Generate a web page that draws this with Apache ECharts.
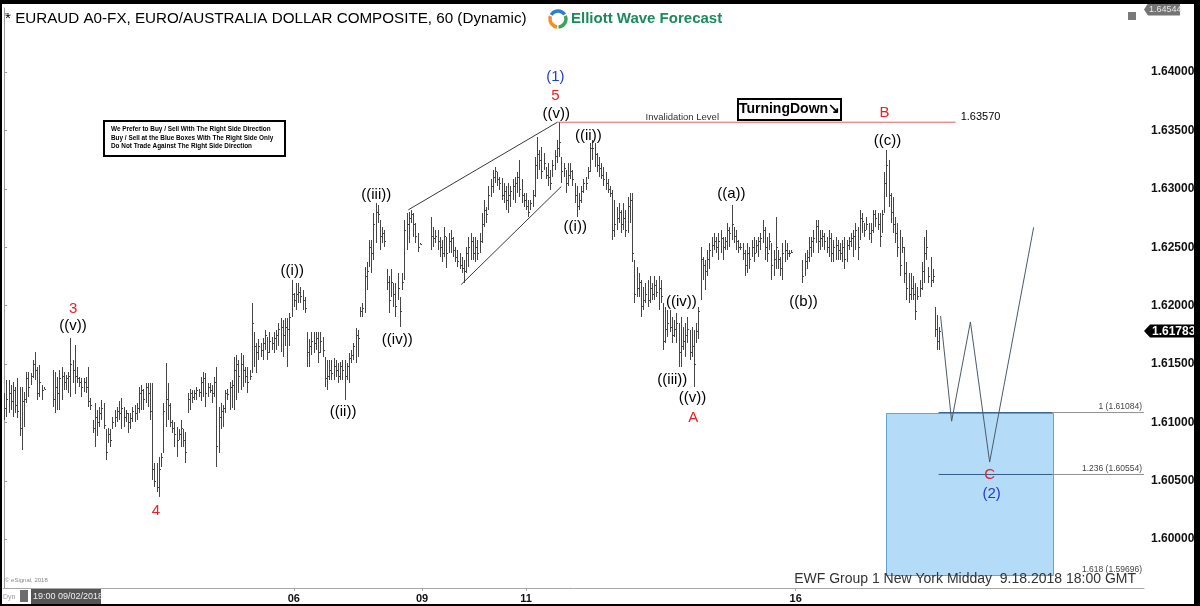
<!DOCTYPE html>
<html><head><meta charset="utf-8">
<script src="https://cdn.jsdelivr.net/npm/echarts@6/dist/echarts.min.js"></script>
<style>html,body{margin:0;padding:0;background:#000;}#c{width:1200px;height:606px;}</style>
</head><body><div id="c"></div>
<script>
// ---------- DATA (hourly EURAUD bars; null = no trading) ----------
const highs = [
1.6125,1.6136,1.6136,1.6132,1.6135,1.6130,1.6138,1.6130,1.6130,1.6126,
1.6143,1.6143,1.6142,1.6153,1.6160,1.6147,1.6149,1.6132,1.6130,
null,null,null,
1.6145,1.6143,1.6139,1.6145,1.6147,1.6143,1.6141,1.6143,1.6172,1.6153,
1.6166,1.6147,1.6139,1.6138,1.6138,1.6139,1.6147,1.6121,1.6102,1.6117,
1.6111,1.6113,1.6119,1.6117,1.6094,1.6095,1.6094,1.6105,1.6111,1.6113,
1.6118,1.6121,1.6113,1.6111,1.6108,1.6108,1.6113,1.6115,1.6117,1.6130,
1.6132,1.6129,1.6134,1.6134,1.6134,1.6134,1.6065,1.6065,1.6070,1.6074,
1.6117,1.6151,1.6134,1.6117,1.6102,1.6100,1.6096,1.6094,1.6102,1.6094,
1.6092,1.6125,1.6129,1.6128,1.6128,1.6130,1.6129,1.6139,1.6143,1.6142,
1.6134,1.6134,1.6132,1.6139,1.6147,1.6113,1.6117,1.6115,1.6128,1.6129,
1.6135,1.6136,1.6156,1.6158,1.6153,1.6159,1.6158,1.6147,1.6147,1.6145,
1.6202,1.6177,1.6168,1.6171,1.6168,1.6172,1.6179,1.6173,1.6177,1.6173,
1.6177,1.6179,1.6185,1.6189,1.6188,1.6189,1.6189,1.6194,1.6222,1.6211,
1.6219,1.6219,1.6216,1.6213,1.6207,1.6177,1.6171,1.6177,1.6177,1.6177,
1.6177,1.6177,1.6173,1.6156,1.6153,1.6153,1.6153,1.6155,1.6153,1.6151,
1.6152,1.6153,1.6153,1.6151,1.6159,1.6162,1.6168,1.6181,1.6179,1.6199,
1.6202,1.6233,1.6237,1.6256,1.6256,1.6279,1.6288,1.6286,1.6273,1.6267,
1.6265,1.6231,1.6225,1.6231,1.6219,1.6219,1.6228,1.6207,1.6228,1.6273,
1.6279,1.6280,1.6282,1.6279,1.6271,1.6262,1.6254,
null,null,null,null,
1.6276,1.6267,1.6265,1.6265,1.6259,1.6256,1.6267,1.6259,1.6262,1.6265,
1.6259,1.6250,1.6248,1.6245,1.6242,1.6239,1.6250,1.6259,1.6262,1.6259,
1.6259,1.6256,1.6262,1.6279,1.6290,1.6284,1.6302,1.6308,1.6316,1.6319,
1.6314,1.6310,1.6309,1.6305,1.6302,1.6305,1.6302,1.6308,1.6310,1.6314,
1.6325,1.6308,1.6296,1.6296,1.6290,1.6290,1.6299,1.6327,1.6344,1.6333,
1.6336,1.6331,1.6319,1.6322,1.6316,1.6325,1.6333,1.6342,1.6357,1.6327,
1.6322,1.6316,1.6322,1.6322,1.6316,1.6305,1.6302,1.6296,1.6302,1.6308,
1.6310,1.6319,1.6339,1.6342,1.6339,1.6331,1.6327,1.6322,1.6319,1.6314,
1.6308,1.6302,1.6299,1.6290,1.6284,1.6288,1.6282,1.6288,1.6282,1.6293,
1.6296,1.6296,1.6239,1.6233,1.6228,1.6222,1.6216,1.6219,1.6222,1.6225,
1.6219,1.6225,1.6222,1.6225,1.6222,1.6202,1.6199,1.6196,1.6196,1.6190,
1.6188,1.6194,1.6185,1.6190,1.6182,1.6185,1.6190,1.6179,1.6182,1.6179,
1.6185,1.6199,1.6250,1.6242,1.6239,1.6248,1.6254,1.6259,1.6262,1.6259,
1.6262,1.6265,1.6259,1.6259,1.6271,1.6267,1.6286,1.6267,1.6265,1.6256,
1.6254,1.6254,1.6248,1.6254,1.6250,1.6256,1.6259,1.6256,1.6259,1.6262,
1.6273,1.6267,1.6259,1.6262,1.6254,1.6248,1.6276,1.6248,1.6242,1.6254,
1.6256,1.6254,1.6248,1.6248,
null,null,null,null,
1.6239,1.6245,1.6248,1.6259,1.6259,1.6265,1.6273,1.6273,1.6265,1.6265,
1.6262,1.6259,1.6265,1.6262,1.6256,1.6259,1.6256,1.6254,1.6256,1.6259,
1.6256,1.6259,1.6262,1.6265,1.6271,1.6267,1.6282,1.6279,1.6271,1.6276,
1.6271,1.6271,1.6282,1.6282,1.6279,1.6279,1.6282,1.6314,1.6333,1.6325,
1.6296,1.6293,1.6276,1.6271,1.6265,1.6259,1.6250,1.6237,1.6228,1.6228,
1.6225,1.6219,1.6216,1.6222,1.6237,1.6259,1.6265,1.6233,1.6242,1.6231,
1.6199,1.6192,1.6182];
const lows = [
1.6102,1.6105,1.6108,1.6111,1.6105,1.6108,1.6104,1.6088,1.6076,1.6096,
1.6117,1.6122,1.6132,1.6138,1.6136,1.6119,1.6122,1.6119,1.6129,
null,null,null,
1.6113,1.6108,1.6111,1.6111,1.6119,1.6128,1.6128,1.6125,1.6122,1.6134,
1.6124,1.6134,1.6130,1.6122,1.6126,1.6125,1.6113,1.6111,1.6091,1.6079,
1.6088,1.6096,1.6102,1.6094,1.6068,1.6082,1.6079,1.6094,1.6096,1.6100,
1.6102,1.6094,1.6096,1.6100,1.6091,1.6094,1.6100,1.6100,1.6102,1.6108,
1.6111,1.6111,1.6117,1.6113,1.6102,1.6051,1.6045,1.6040,1.6036,1.6062,
1.6074,1.6096,1.6102,1.6096,1.6091,1.6079,1.6070,1.6085,1.6079,1.6079,
1.6065,1.6108,1.6111,1.6117,1.6119,1.6119,1.6122,1.6118,1.6122,1.6113,
1.6122,1.6125,1.6117,1.6122,1.6062,1.6074,1.6094,1.6096,1.6108,1.6119,
1.6111,1.6112,1.6111,1.6119,1.6125,1.6128,1.6130,1.6134,1.6125,1.6136,
1.6142,1.6147,1.6142,1.6153,1.6156,1.6153,1.6162,1.6153,1.6159,1.6162,
1.6159,1.6162,1.6165,1.6160,1.6156,1.6165,1.6147,1.6165,1.6190,1.6199,
1.6196,1.6202,1.6202,1.6196,1.6194,1.6147,1.6147,1.6158,1.6159,1.6162,
1.6151,1.6159,1.6156,1.6130,1.6128,1.6136,1.6136,1.6136,1.6139,1.6134,
1.6136,1.6136,1.6119,1.6136,1.6134,1.6151,1.6153,1.6151,1.6156,1.6190,
1.6190,1.6194,1.6213,1.6233,1.6228,1.6239,1.6254,1.6271,1.6248,1.6254,
1.6250,1.6213,1.6194,1.6207,1.6199,1.6190,1.6205,1.6182,1.6213,1.6222,
1.6248,1.6254,1.6271,1.6259,1.6254,1.6246,1.6253,
null,null,null,null,
1.6248,1.6250,1.6254,1.6248,1.6242,1.6237,1.6242,1.6232,1.6245,1.6245,
1.6242,1.6237,1.6233,1.6231,1.6228,1.6219,1.6228,1.6233,1.6239,1.6239,
1.6237,1.6239,1.6245,1.6254,1.6267,1.6271,1.6282,1.6293,1.6296,1.6305,
1.6302,1.6299,1.6290,1.6288,1.6282,1.6279,1.6284,1.6290,1.6288,1.6296,
1.6293,1.6288,1.6284,1.6282,1.6276,1.6282,1.6284,1.6293,1.6308,1.6316,
1.6308,1.6316,1.6308,1.6302,1.6299,1.6310,1.6316,1.6322,1.6327,1.6305,
1.6310,1.6296,1.6302,1.6308,1.6302,1.6288,1.6276,1.6282,1.6288,1.6296,
1.6299,1.6308,1.6314,1.6325,1.6319,1.6314,1.6310,1.6308,1.6302,1.6299,
1.6296,1.6293,1.6256,1.6259,1.6265,1.6271,1.6262,1.6265,1.6259,1.6262,
1.6271,1.6237,1.6202,1.6207,1.6207,1.6190,1.6196,1.6202,1.6199,1.6202,
1.6205,1.6205,1.6207,1.6196,1.6202,1.6162,1.6168,1.6173,1.6177,1.6168,
1.6173,1.6168,1.6147,1.6147,1.6162,1.6156,1.6168,1.6153,1.6156,1.6130,
1.6168,1.6171,1.6205,1.6222,1.6213,1.6225,1.6231,1.6242,1.6248,1.6245,
1.6239,1.6245,1.6239,1.6248,1.6248,1.6250,1.6256,1.6254,1.6248,1.6245,
1.6248,1.6239,1.6225,1.6228,1.6231,1.6242,1.6237,1.6245,1.6242,1.6248,
1.6254,1.6239,1.6237,1.6248,1.6222,1.6225,1.6231,1.6231,1.6225,1.6222,
1.6237,1.6239,1.6242,1.6245,
null,null,null,null,
1.6219,1.6225,1.6231,1.6237,1.6242,1.6245,1.6254,1.6245,1.6248,1.6250,
1.6248,1.6245,1.6242,1.6237,1.6237,1.6239,1.6239,1.6239,1.6237,1.6231,
1.6237,1.6248,1.6250,1.6242,1.6248,1.6239,1.6256,1.6262,1.6259,1.6265,
1.6256,1.6254,1.6262,1.6267,1.6265,1.6250,1.6262,1.6279,1.6293,1.6284,
1.6271,1.6262,1.6254,1.6242,1.6225,1.6245,1.6219,1.6205,1.6202,1.6205,
1.6205,1.6188,1.6205,1.6207,1.6213,1.6219,1.6239,1.6219,1.6216,1.6219,
1.6173,1.6162,1.6162];
const closes = [
1.6112,1.6120,1.6125,1.6118,1.6128,1.6115,1.6110,1.6095,1.6118,1.6120,
1.6138,1.6130,1.6140,1.6150,1.6145,1.6125,1.6135,1.6128,1.6129,
null,null,null,
1.6120,1.6130,1.6125,1.6138,1.6140,1.6135,1.6138,1.6140,1.6150,1.6145,
1.6140,1.6138,1.6135,1.6130,1.6135,1.6130,1.6118,1.6115,1.6095,1.6105,
1.6100,1.6108,1.6112,1.6098,1.6075,1.6090,1.6085,1.6100,1.6105,1.6110,
1.6108,1.6112,1.6105,1.6108,1.6100,1.6104,1.6110,1.6108,1.6112,1.6125,
1.6128,1.6120,1.6130,1.6125,1.6110,1.6060,1.6050,1.6045,1.6060,1.6070,
1.6110,1.6120,1.6115,1.6100,1.6095,1.6090,1.6085,1.6090,1.6095,1.6085,
1.6075,1.6120,1.6125,1.6122,1.6125,1.6128,1.6126,1.6135,1.6138,1.6125,
1.6130,1.6128,1.6125,1.6135,1.6080,1.6105,1.6110,1.6112,1.6125,1.6124,
1.6130,1.6132,1.6145,1.6150,1.6140,1.6150,1.6145,1.6140,1.6135,1.6140,
1.6185,1.6165,1.6160,1.6165,1.6162,1.6168,1.6175,1.6160,1.6170,1.6168,
1.6172,1.6175,1.6180,1.6182,1.6175,1.6182,1.6180,1.6190,1.6210,1.6205,
1.6210,1.6212,1.6208,1.6205,1.6198,1.6160,1.6165,1.6170,1.6168,1.6172,
1.6160,1.6170,1.6162,1.6138,1.6140,1.6145,1.6142,1.6148,1.6145,1.6140,
1.6148,1.6145,1.6140,1.6148,1.6155,1.6158,1.6165,1.6175,1.6172,1.6195,
1.6198,1.6225,1.6230,1.6250,1.6245,1.6270,1.6280,1.6278,1.6260,1.6262,
1.6255,1.6220,1.6205,1.6220,1.6210,1.6200,1.6215,1.6195,1.6220,1.6265,
1.6270,1.6275,1.6278,1.6270,1.6260,1.6250,1.6253,
null,null,null,null,
1.6260,1.6258,1.6260,1.6255,1.6250,1.6245,1.6260,1.6245,1.6255,1.6258,
1.6248,1.6242,1.6238,1.6235,1.6232,1.6230,1.6245,1.6250,1.6255,1.6245,
1.6250,1.6245,1.6255,1.6270,1.6282,1.6278,1.6295,1.6302,1.6310,1.6315,
1.6308,1.6305,1.6295,1.6298,1.6290,1.6295,1.6298,1.6302,1.6305,1.6310,
1.6300,1.6295,1.6290,1.6285,1.6280,1.6288,1.6295,1.6320,1.6330,1.6325,
1.6315,1.6322,1.6312,1.6310,1.6305,1.6320,1.6328,1.6335,1.6340,1.6315,
1.6318,1.6305,1.6312,1.6315,1.6308,1.6295,1.6285,1.6290,1.6298,1.6305,
1.6305,1.6315,1.6335,1.6335,1.6330,1.6320,1.6318,1.6312,1.6308,1.6305,
1.6300,1.6296,1.6265,1.6270,1.6275,1.6280,1.6270,1.6275,1.6265,1.6285,
1.6290,1.6245,1.6210,1.6215,1.6220,1.6200,1.6205,1.6210,1.6205,1.6215,
1.6210,1.6218,1.6212,1.6215,1.6208,1.6170,1.6180,1.6185,1.6182,1.6175,
1.6180,1.6185,1.6160,1.6165,1.6170,1.6175,1.6180,1.6160,1.6165,1.6150,
1.6178,1.6195,1.6240,1.6235,1.6230,1.6240,1.6248,1.6252,1.6255,1.6250,
1.6255,1.6258,1.6250,1.6255,1.6265,1.6262,1.6270,1.6260,1.6255,1.6250,
1.6250,1.6245,1.6235,1.6245,1.6240,1.6250,1.6245,1.6252,1.6255,1.6258,
1.6265,1.6250,1.6245,1.6255,1.6235,1.6240,1.6250,1.6240,1.6232,1.6245,
1.6248,1.6245,1.6245,1.6246,
null,null,null,null,
1.6225,1.6238,1.6242,1.6250,1.6255,1.6258,1.6268,1.6255,1.6258,1.6260,
1.6255,1.6250,1.6258,1.6245,1.6250,1.6252,1.6248,1.6245,1.6250,1.6240,
1.6252,1.6255,1.6258,1.6260,1.6265,1.6250,1.6275,1.6272,1.6265,1.6270,
1.6262,1.6265,1.6278,1.6275,1.6270,1.6260,1.6278,1.6305,1.6320,1.6295,
1.6280,1.6270,1.6262,1.6250,1.6235,1.6250,1.6228,1.6215,1.6210,1.6215,
1.6210,1.6195,1.6208,1.6215,1.6230,1.6245,1.6250,1.6225,1.6222,1.6225,
1.6180,1.6170,1.61783];

// axis tick labels: [slot index, text]
const dayTicks = [[20,'03'],[131,'06'],[189,'09'],[236,'11'],[358,'16']];
const slotCount = 516;
const yAxisMin = 1.59582, yAxisMax = 1.64548;
const axisTopValue = 1.64544;

// Elliott wave labels
const waveText  = ['3','((v))','4','((i))','((ii))','((iii))','((iv))','(1)','5','((v))','((ii))','((i))','((iv))','((iii))','((v))','A','((a))','((b))','B','((c))','C','(2)'];
const waveSlot  = [31.2,31.2,68.7,130.3,153.3,168.3,177.8,249.3,249.3,249.7,264.2,258.3,306.3,302.2,311.3,311.7,328.9,361.5,398.1,399.5,445.7,446.6];
const wavePrice = [1.6197,1.6183,1.6024,1.6230,1.6109,1.6295,1.6171,1.6396,1.6380,1.6364,1.6345,1.6267,1.6203,1.6136,1.6121,1.6104,1.6296,1.6203,1.6365,1.6341,1.6055,1.6039];
const waveKind  = ['r','k','r','k','k','k','k','b','r','k','k','k','k','k','k','r','k','k','r','k','r','b'];

// ending diagonal channel lines
const wedgeUpper = [[182.8,1.6282],[250.2,1.6357]];
const wedgeLower = [[206.7,1.6218],[252.0,1.6302]];
// projected path
const projSlot  = [423.5,428.5,437.0,445.7,465.6];
const projPrice = [1.6191,1.6101,1.6186,1.6066,1.6267];
// invalidation level
const invalidation = 1.6357;
const invalidationSpan = [250.2,430.3];
// blue box and fib extensions
const boxSlots = [398.6,474.2];
const fibLevels = [['1',1.61084],['1.236',1.60554],['1.618',1.59696]];
const fibStartSlot = 422.6;
// ----------------------------------------------------------------------

const FONT = '"Liberation Sans", Arial, sans-serif';
const styleColor = {r:'#e8202a', k:'#000000', b:'#1e3ec8'};
const tickMap = {}; dayTicks.forEach(t => tickMap[t[0]] = t[1]);
const categories = []; for (let i = 0; i < slotCount; i++) categories.push(String(i));

const ohlc = [];
for (let i = 0; i < highs.length; i++) {
  if (highs[i] != null) ohlc.push([i, highs[i], lows[i], closes[i]]);
}
let lastIdx = closes.length - 1; while (closes[lastIdx] == null) lastIdx--;
const lastClose = closes[lastIdx];

const chart = echarts.init(document.getElementById('c'), null, {renderer: 'canvas'});

// text annotations: [slot, price] plus text/style held in a parallel list
const textItems = [];
waveText.forEach((t, i) => textItems.push({v: [waveSlot[i], wavePrice[i]], text: t, font: '15px ' + FONT, fill: styleColor[waveKind[i]], align: 'center', va: 'middle'}));
textItems.push({v: [306.7, 1.63615], text: 'Invalidation Level', font: '9.5px ' + FONT, fill: '#333', align: 'center', va: 'middle'});
textItems.push({v: [432.6, 1.63615], text: invalidation.toFixed(5), font: '11px ' + FONT, fill: '#000', align: 'left', va: 'middle'});
fibLevels.forEach(f => textItems.push({v: [514.6, f[1]], text: f[0] + ' (' + f[1].toFixed(5) + ')', font: '8.5px ' + FONT, fill: '#444', align: 'right', va: 'bottom', dy: -1}));

const lineSeries = (data, color, z) => ({
  type: 'line', xAxisIndex: 1, yAxisIndex: 0, data, symbol: 'none', silent: true, animation: false,
  lineStyle: {color, width: 1}, z: z || 3
});

const fibLines = [];
fibLevels.slice(0, 2).forEach(f => {
  fibLines.push(lineSeries([[fibStartSlot, f[1]], [boxSlots[1], f[1]]], '#2f5f86', 4));
  fibLines.push(lineSeries([[boxSlots[1], f[1]], [slotCount - 0.5, f[1]]], '#8f8f8f', 4));
});

const isMajor = v => Math.abs(v * 200 - Math.round(v * 200)) < 1e-6 && v < 1.6449;

const option = {
  backgroundColor: '#ffffff',
  animation: false,
  grid: {left: 3, right: 56, top: 8, bottom: 18, containLabel: false, outerBoundsMode: 'none'},
  xAxis: [
    {type: 'category', data: categories, boundaryGap: true,
     axisLine: {show: true, lineStyle: {color: '#a8a8a8', width: 1}},
     axisTick: {show: true, length: 3, alignWithLabel: true, interval: (i) => tickMap[i] !== undefined, lineStyle: {color: '#a8a8a8'}},
     axisLabel: {show: true, interval: (i) => tickMap[i] !== undefined, formatter: (v, i) => tickMap[i] || '',
       color: '#111', fontWeight: 'bold', fontSize: 11, fontFamily: FONT, margin: 5},
     splitLine: {show: false}},
    {type: 'value', min: -0.5, max: slotCount - 0.5, show: false}
  ],
  yAxis: {type: 'value', position: 'right', min: yAxisMin, max: yAxisMax, splitNumber: 10,
    axisLine: {show: true, lineStyle: {color: '#9c9c9c'}},
    axisTick: {show: true, length: 3, lineStyle: {color: '#9c9c9c'}},
    axisLabel: {color: '#111', fontWeight: 'bold', fontSize: 12, fontFamily: FONT, margin: 7,
      formatter: v => isMajor(v) ? v.toFixed(5) : '', showMinLabel: false, showMaxLabel: false},
    splitLine: {show: false}},
  series: [
    {type: 'custom', name: 'box', xAxisIndex: 1, yAxisIndex: 0, silent: true, z: 1,
     data: [[boxSlots[0], boxSlots[1], fibLevels[0][1], fibLevels[2][1]]],
     encode: {x: [0, 1], y: [2, 3]},
     renderItem: (params, api) => {
       const a = api.coord([api.value(0), api.value(2)]);
       const b = api.coord([api.value(1), api.value(3)]);
       return {type: 'rect', shape: {x: Math.round(a[0]) + 0.5, y: Math.round(a[1]) + 0.5, width: Math.round(b[0] - a[0]), height: Math.round(b[1] - a[1])},
         style: {fill: '#b4dbf8', stroke: '#5ea5da', lineWidth: 1}};
     }},
    {type: 'custom', name: 'EURAUD', xAxisIndex: 0, yAxisIndex: 0, silent: true, z: 2,
     data: ohlc, encode: {x: 0, y: [1, 2, 3]},
     renderItem: (params, api) => {
       const i = api.value(0);
       const pH = api.coord([i, api.value(1)]);
       const pL = api.coord([i, api.value(2)]);
       const pC = api.coord([i, api.value(3)]);
       const x = Math.round(pH[0]) + 0.5;
       const y1 = Math.round(pH[1]), y2 = Math.max(Math.round(pL[1]), y1 + 1);
       const yc = Math.round(pC[1]) + 0.5;
       return {type: 'group', children: [
         {type: 'line', shape: {x1: x, y1: y1, x2: x, y2: y2}, style: {stroke: '#454545', lineWidth: 1}},
         {type: 'line', shape: {x1: x, y1: yc, x2: x + 1.5, y2: yc}, style: {stroke: '#454545', lineWidth: 1}}
       ]};
     }},
    lineSeries(wedgeUpper, '#3a3a3a'),
    lineSeries(wedgeLower, '#3a3a3a'),
    lineSeries(projSlot.map((s, i) => [s, projPrice[i]]), '#4b5b6b', 5),
    lineSeries([[invalidationSpan[0], invalidation], [invalidationSpan[1], invalidation]], '#e06262'),
    ...fibLines,
    {type: 'custom', name: 'labels', xAxisIndex: 1, yAxisIndex: 0, silent: true, z: 7,
     data: textItems.map((t, i) => [t.v[0], t.v[1], i]), encode: {x: 0, y: 1},
     renderItem: (params, api) => {
       const t = textItems[api.value(2)];
       const p = api.coord([api.value(0), api.value(1)]);
       return {type: 'text', x: p[0], y: p[1] + (t.dy || 0),
         style: {text: t.text, font: t.font, fill: t.fill, align: t.align, textAlign: t.align, verticalAlign: t.va, textVerticalAlign: t.va}};
     }}
  ]
};
chart.setOption(option);

const yLast = chart.convertToPixel({yAxisIndex: 0}, lastClose);
const yTop = chart.convertToPixel({yAxisIndex: 0}, axisTopValue);
const axisX = 1144;

function txt(x, y, text, font, fill, align, valign, z) {
  return {type: 'text', x, y, z: z || 10, silent: true,
    style: {text, font, fill, align: align || 'left', textAlign: align || 'left', verticalAlign: valign || 'middle', textVerticalAlign: valign || 'middle'}};
}

const g = [
  // frame
  {type: 'rect', shape: {x: 0, y: 0, width: 1200, height: 4}, style: {fill: '#000'}, z: 20, silent: true},
  {type: 'rect', shape: {x: 0, y: 0, width: 2, height: 606}, style: {fill: '#000'}, z: 20, silent: true},
  {type: 'rect', shape: {x: 1194, y: 0, width: 6, height: 606}, style: {fill: '#000'}, z: 20, silent: true},
  {type: 'rect', shape: {x: 0, y: 604, width: 1200, height: 2}, style: {fill: '#000'}, z: 20, silent: true},
  // title
  txt(5, 19, '* EURAUD A0-FX, EURO/AUSTRALIA DOLLAR COMPOSITE, 60 (Dynamic)', '15.2px ' + FONT, '#000'),
  // logo
  {type: 'arc', shape: {cx: 558, cy: 19, r: 8, startAngle: -2.6, endAngle: -0.6}, style: {stroke: '#2a7fd0', lineWidth: 3.5, fill: 'none'}, z: 10, silent: true},
  {type: 'arc', shape: {cx: 558, cy: 19, r: 8, startAngle: -0.4, endAngle: 1.5}, style: {stroke: '#3aa55a', lineWidth: 3.5, fill: 'none'}, z: 10, silent: true},
  {type: 'arc', shape: {cx: 558, cy: 19, r: 8, startAngle: 1.7, endAngle: 3.5}, style: {stroke: '#f0902a', lineWidth: 3.5, fill: 'none'}, z: 10, silent: true},
  txt(571, 19, 'Elliott Wave Forecast', 'bold 15px ' + FONT, '#1b8a5c'),
  // small icon
  {type: 'rect', shape: {x: 1128, y: 12, width: 8, height: 8}, style: {fill: '#7a7a7a'}, z: 10, silent: true},
  // top value tag
  {type: 'polygon', shape: {points: [[axisX, yTop + 1], [axisX + 4, yTop - 5], [1180, yTop - 5], [1180, yTop + 7], [axisX + 4, yTop + 7]]}, style: {fill: '#747474'}, z: 12, silent: true},
  txt(axisX + 5, yTop + 1, axisTopValue.toFixed(5), '9px ' + FONT, '#e8e8e8', 'left', 'middle', 14),
  // last price tag
  {type: 'polygon', shape: {points: [[axisX, yLast], [axisX + 6, yLast - 6.5], [1194, yLast - 6.5], [1194, yLast + 6.5], [axisX + 6, yLast + 6.5]]}, style: {fill: '#000'}, z: 12, silent: true},
  txt(axisX + 8, yLast + 0.5, lastClose.toFixed(5), 'bold 12px ' + FONT, '#fff', 'left', 'middle', 14),
  // info box
  {type: 'rect', shape: {x: 104, y: 121, width: 181, height: 35}, style: {fill: '#fff', stroke: '#000', lineWidth: 2}, z: 10, silent: true},
  txt(111, 129.5, 'We Prefer to Buy / Sell With The Right Side Direction', 'bold 6.4px ' + FONT, '#000', 'left', 'middle', 11),
  txt(111, 138, 'Buy / Sell at the Blue Boxes With The Right Side Only', 'bold 6.4px ' + FONT, '#000', 'left', 'middle', 11),
  txt(111, 146.5, 'Do Not Trade Against The Right Side Direction', 'bold 6.4px ' + FONT, '#000', 'left', 'middle', 11),
  // TurningDown
  {type: 'rect', shape: {x: 738, y: 99, width: 103, height: 21}, style: {fill: '#fff', stroke: '#000', lineWidth: 2}, z: 10, silent: true},
  txt(789.5, 109.5, 'TurningDown\u2198', 'bold 14px ' + FONT, '#000', 'center', 'middle', 11),
  // footer
  txt(1136, 579, 'EWF Group 1 New York Midday  9.18.2018 18:00 GMT', '14px ' + FONT, '#333', 'right'),
  txt(5, 580, '\u00a9 eSignal, 2018', '6px ' + FONT, '#8a8a8a'),
  // bottom-left status
  txt(3, 597, 'Dyn', '7px ' + FONT, '#9a9a9a'),
  {type: 'rect', shape: {x: 20, y: 590, width: 8, height: 12}, style: {fill: '#6d6d6d'}, z: 12, silent: true},
  {type: 'rect', shape: {x: 31, y: 589, width: 70, height: 15}, style: {fill: '#555'}, z: 12, silent: true},
  txt(33, 596.5, '19:00 09/02/2018', '9px ' + FONT, '#f0f0f0', 'left', 'middle', 13)
];
if (highs.length !== lows.length || highs.length !== closes.length) {
  g.push(txt(300, 300, 'LEN MISMATCH ' + highs.length + ' ' + lows.length + ' ' + closes.length, 'bold 20px ' + FONT, 'red'));
}
chart.setOption({graphic: {elements: g}});
</script>
</body></html>
